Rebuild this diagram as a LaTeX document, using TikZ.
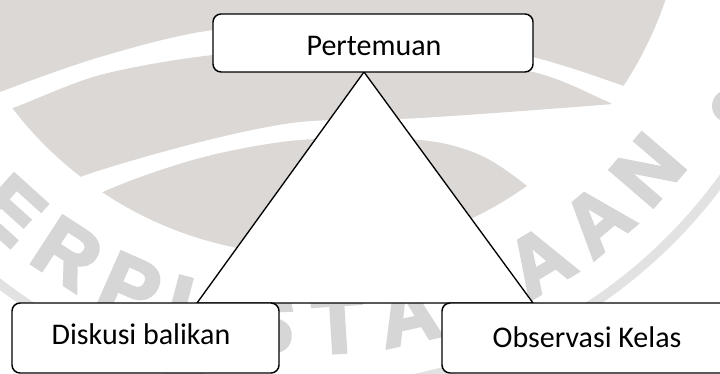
\documentclass[tikz,border=0pt]{standalone}
\usepackage{fontspec}
\setmainfont{Carlito}
\newfontfamily\wmfont{Liberation Sans}[BoldFeatures={FakeBold=4}]
\definecolor{wmA}{RGB}{219,216,213}
\definecolor{wmB}{RGB}{214,214,214}
\definecolor{wmC}{RGB}{226,226,226}
\begin{document}
\begin{tikzpicture}[x=0.75pt,y=-0.75pt,
  boxnode/.style={draw=black, fill=white, line width=1.1pt, rounded corners=6pt, inner sep=0pt, outer sep=0pt},
  lbl/.style={font=\fontsize{22.5}{25}\selectfont, inner sep=0pt, anchor=base},
  tri/.style={draw=black, fill=white, line width=1pt, line join=miter},
  wmletter/.style={font=\wmfont\bfseries\fontsize{62}{62}\selectfont, text=wmB, inner sep=0pt}]
\useasboundingbox (0,0) rectangle (720,374);
\clip (0,0) rectangle (720,374);
\fill[white] (0,0) rectangle (720,374);
% watermark: inner disc with bands
\begin{scope}
  \clip (310,-120) circle[radius=281.25pt];
  \fill[wmA] (-50,-50) -- (800,-50) -- (800,150) -- plot[smooth] coordinates {(700,113) (627,87) (533,57) (370,22) (213,30) (100,57) (0,92) (-40,110)} -- cycle;
  \fill[wmA] plot[smooth] coordinates {(-40,125) (13,108) (100,75) (213,55) (370,45) (533,72) (613,104) (680,130)}
     -- plot[smooth] coordinates {(700,95) (613,104) (420,118) (300,122) (200,142) (80,177) (0,215)} -- cycle;
  \fill[wmA] plot[smooth] coordinates {(20,240) (103,192) (200,158) (300,140) (420,140) (480,155) (527,186) (560,220)}
     -- (560,420) -- (20,420) -- cycle;
\end{scope}
\foreach \l [count=\i from 0] in {P,E,R,P,U,S,T,A,K,A,A,N} {
  \pgfmathsetmacro\t{-51.3+9.15*\i}
  \node[wmletter, rotate=\t] (wm\i) at ({310+445*sin(\t)},{-120+445*cos(\t)}) {\l};
}
\draw[wmC, line width=7pt] (310,-120) circle[radius=382pt];
\fill[wmB] (728,106) circle[radius=12pt];
% diagram
\coordinate (apex) at (364,72);
\coordinate (bl) at (197,303);
\coordinate (br) at (533,303);
\draw[tri] (apex) -- (bl) -- (br) -- cycle;
\node[boxnode, minimum width=240pt, minimum height=43.5pt] (top) at (373,43) {};
\node[boxnode, minimum width=200.25pt, minimum height=52.5pt] (left) at (145.5,338) {};
\node[boxnode, minimum width=223.5pt, minimum height=52.5pt] (right) at (591,338) {};
\node[lbl] (toptext) at (374,56) {Pertemuan};
\node[lbl] (lefttext) at (141,344) {Diskusi balikan};
\node[lbl] (righttext) at (587,347) {Observasi Kelas};
\end{tikzpicture}
\end{document}
